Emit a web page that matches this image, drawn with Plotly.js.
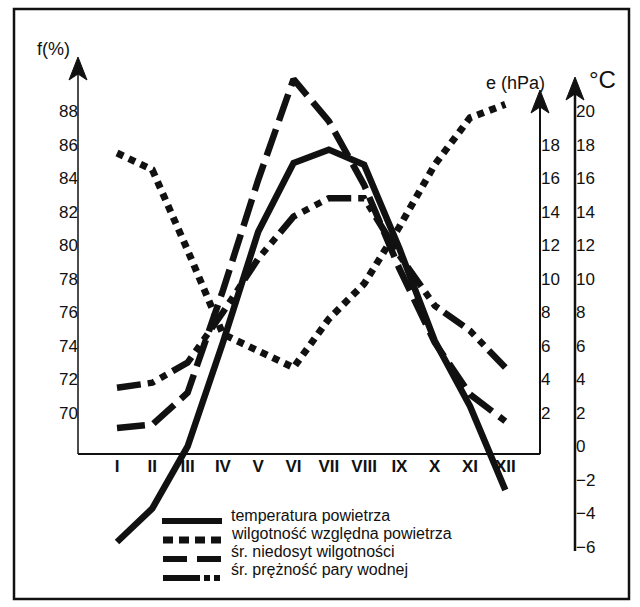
<!DOCTYPE html>
<html>
<head>
<meta charset="utf-8">
<script src="https://cdn.plot.ly/plotly-3.0.1.min.js"></script>
<style>html,body{margin:0;padding:0;background:#fff}#chart{width:640px;height:607px}</style>
</head>
<body>
<div id="chart"></div>
<script>
// ---- data ----
var months = ['I','II','III','IV','V','VI','VII','VIII','IX','X','XI','XII'];
var monthPos = [1,2,3,4,5,6,7,8,9,10,11,12];
var temperature = [-5.7, -3.7, 0.0, 6.2, 12.8, 16.9, 17.7, 16.8, 11.8, 6.3, 2.4, -2.6];   // °C
var humidity    = [85.5, 84.5, 79.7, 74.7, 73.7, 72.7, 75.6, 77.7, 81.1, 84.8, 87.6, 88.4]; // f (%)
var deficit     = [1.1, 1.3, 3.2, 9.3, 15.9, 21.9, 19.4, 15.6, 10.6, 6.2, 3.1, 1.5];        // hPa
var vapour      = [3.5, 3.8, 5.0, 8.0, 11.2, 13.7, 14.8, 14.8, 11.4, 8.4, 6.9, 4.7];        // hPa
var fTicks = [70,72,74,76,78,80,82,84,86,88];
var eTicks = [2,4,6,8,10,12,14,16,18];
var cTicks = [-6,-4,-2,0,2,4,6,8,10,12,14,16,18,20];
var legendNames = ['temperatura powietrza','wilgotność względna powietrza','śr. niedosyt wilgotności','śr. prężność pary wodnej'];

// ---- layout helpers (pixel -> paper) ----
var L = 14, T = 9, R = 629, B = 599;
function px(x){ return (x - L) / (R - L); }
function py(y){ return (B - y) / (B - T); }
var FONT = 'Arial, "Liberation Sans", sans-serif';
var INK = '#111';

var traces = [
  {x: monthPos, y: temperature, yaxis: 'y3', mode: 'lines', name: legendNames[0],
   line: {color: INK, width: 6.5}},
  {x: monthPos, y: humidity, yaxis: 'y', mode: 'lines', name: legendNames[1],
   line: {color: INK, width: 7, dash: '7px,6px'}},
  {x: monthPos, y: deficit, yaxis: 'y2', mode: 'lines', name: legendNames[2],
   line: {color: INK, width: 6.5, dash: '28px,9px'}},
  {x: monthPos, y: vapour, yaxis: 'y2', mode: 'lines', name: legendNames[3],
   line: {color: INK, width: 6.5, dash: '24px,7px,7px,7px,7px,7px'}}
];

var cRange = [-9.10, 26.087];
var fRange = [cRange[0] + 68, cRange[1] + 68];

function yax(extra){
  var base = {showgrid:false, zeroline:false, showline:false, ticks:'', fixedrange:true,
              tickfont:{family:FONT, size:17, color:INK}, anchor:'free'};
  for (var k in extra) base[k] = extra[k];
  return base;
}

// filled arrowhead with a shallow notch, tip at pixel (x, yTip)
function arrowHead(x, yTip){
  var w = 9, h = 23, notch = 6;
  var d = 'M' + px(x) + ',' + py(yTip) +
          ' L' + px(x + w) + ',' + py(yTip + h) +
          ' L' + px(x) + ',' + py(yTip + h - notch) +
          ' L' + px(x - w) + ',' + py(yTip + h) + ' Z';
  return {type:'path', xref:'paper', yref:'paper', path:d, fillcolor:INK, line:{color:INK, width:1}};
}

var shapes = [
  // outer frame
  {type:'rect', xref:'paper', yref:'paper', x0:0, x1:1, y0:0, y1:1, line:{color:INK, width:2.5}},
  // left f axis
  {type:'line', xref:'paper', yref:'paper', x0:px(78), x1:px(78), y0:py(454), y1:py(70), line:{color:INK, width:1.5}, layer:'below'},
  // bottom axis
  {type:'line', xref:'paper', yref:'paper', x0:px(78), x1:px(540), y0:py(454), y1:py(454), line:{color:INK, width:2}, layer:'below'},
  // e axis
  {type:'line', xref:'paper', yref:'paper', x0:px(540), x1:px(540), y0:py(454), y1:py(100), line:{color:INK, width:2}, layer:'below'},
  // °C axis
  {type:'line', xref:'paper', yref:'paper', x0:px(575), x1:px(575), y0:py(551), y1:py(90), line:{color:INK, width:2.5}, layer:'below'},
  arrowHead(78, 57), arrowHead(540, 90), arrowHead(575, 77),
  // legend samples
  {type:'line', xref:'paper', yref:'paper', x0:px(162), x1:px(222), y0:py(521), y1:py(521), line:{color:INK, width:6}},
  {type:'line', xref:'paper', yref:'paper', x0:px(163), x1:px(221), y0:py(540), y1:py(540), line:{color:INK, width:7, dash:'10px,6px'}},
  {type:'line', xref:'paper', yref:'paper', x0:px(163), x1:px(221), y0:py(559), y1:py(559), line:{color:INK, width:6, dash:'24px,10px'}},
  {type:'line', xref:'paper', yref:'paper', x0:px(163), x1:px(221), y0:py(578), y1:py(578), line:{color:INK, width:6, dash:'37px,4px,6px,4px,6px,20px'}}
];

function label(text, x, y, size, anchor){
  return {xref:'paper', yref:'paper', x:px(x), y:py(y), text:text, showarrow:false,
          xanchor:anchor || 'center', yanchor:'middle', font:{family:FONT, size:size, color:INK}};
}

var annotations = [
  label('f(%)', 53, 49, 18),
  label('e (hPa)', 515, 83, 18),
  label('°C', 602, 79, 24),
  label(legendNames[0], 229, 515, 16, 'left'),
  label(legendNames[1], 229, 533, 16, 'left'),
  label(legendNames[2], 229, 551, 16, 'left'),
  label(legendNames[3], 229, 569, 16, 'left')
];

var layout = {
  width: 640, height: 607,
  margin: {l: L, r: 640 - R, t: T, b: 607 - B, pad: 0},
  paper_bgcolor: '#fff', plot_bgcolor: '#fff',
  showlegend: false,
  xaxis: {range: [-1.918, 15.504], anchor: 'free', position: py(454), showgrid:false, zeroline:false,
          showline:false, ticks:'', tickvals: monthPos, ticktext: months, fixedrange:true,
          tickfont: {family: FONT, size: 17, color: INK, weight: 'bold'}},
  yaxis: yax({range: fRange, position: px(78), side: 'left', tickvals: fTicks}),
  yaxis2: yax({range: cRange, position: px(540), side: 'right', overlaying: 'y', tickvals: eTicks}),
  yaxis3: yax({range: cRange, position: px(575), side: 'right', overlaying: 'y', tickvals: cTicks}),
  shapes: shapes,
  annotations: annotations
};

Plotly.newPlot('chart', traces, layout, {displayModeBar: false, staticPlot: true});
</script>
</body>
</html>
